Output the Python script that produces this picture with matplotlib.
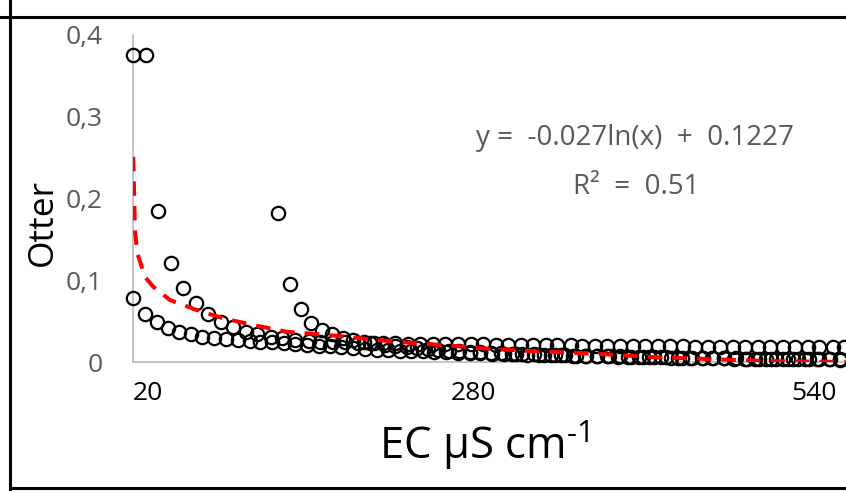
import numpy as np
import matplotlib
matplotlib.use("Agg")
import matplotlib.pyplot as plt
from matplotlib.lines import Line2D

plt.rcParams['font.family'] = ['Open Sans', 'DejaVu Sans']
plt.rcParams['mathtext.default'] = 'regular'

# three decay groups of samples (EC, Otter)
a_x = [20, 30, 39, 49, 58, 68, 77, 87, 96, 106, 115, 125, 134, 144, 154, 163, 173, 182, 192, 201,
       211, 220, 230, 239, 249, 258, 268, 278, 287, 297, 306, 316, 325, 335, 344, 354, 363, 373, 382, 392,
       402, 411, 421, 430, 440, 449, 459, 468, 478, 487, 497, 506, 516, 525, 535, 544, 554, 563]
a_y = [0.375, 0.375, 0.185, 0.1215, 0.090, 0.0718, 0.0587, 0.0493, 0.0432, 0.037,
       0.034, 0.031, 0.029, 0.0275, 0.026, 0.025, 0.0245, 0.024, 0.0235, 0.023,
       0.023, 0.0228, 0.0225, 0.0225, 0.0222, 0.022, 0.022, 0.0218, 0.0215, 0.0213,
       0.021, 0.021, 0.0208, 0.0206, 0.0205, 0.0203, 0.020, 0.020, 0.0198, 0.0196,
       0.0195, 0.0193, 0.0192, 0.019, 0.019, 0.0188, 0.0187, 0.0186, 0.0185, 0.0185,
       0.0184, 0.0183, 0.0182, 0.0181, 0.018, 0.018, 0.0179, 0.0178]

b_x = [20, 29, 38, 47, 55, 64, 73, 82, 91, 100, 109, 117, 126, 135, 144, 153, 162, 170, 179, 188,
       197, 206, 215, 224, 232, 241, 250, 259, 268, 277, 285, 294, 303, 312, 321, 330, 339, 347, 356, 365,
       374, 383, 392, 400, 409, 418, 427, 436, 445, 454, 462, 471, 480, 489, 498, 507, 516, 524, 533, 542,
       551, 560]
b_y = [0.078, 0.0587, 0.0485, 0.041, 0.0363, 0.0338, 0.031, 0.0297, 0.028, 0.027,
       0.026, 0.0248, 0.024, 0.023, 0.022, 0.021, 0.020, 0.019, 0.018, 0.017,
       0.016, 0.015, 0.0145, 0.014, 0.0135, 0.013, 0.0125, 0.012, 0.0115, 0.011,
       0.0105, 0.010, 0.0097, 0.0094, 0.009, 0.0087, 0.0084, 0.008, 0.0078, 0.0075,
       0.0072, 0.007, 0.0068, 0.0065, 0.0062, 0.006, 0.0058, 0.0055, 0.0053, 0.005,
       0.0048, 0.0046, 0.0044, 0.0042, 0.004, 0.0038, 0.0036, 0.0035, 0.0034, 0.0033,
       0.0032, 0.0031]

c_x = [131, 140, 148, 156, 164, 172, 180, 188, 196, 204, 212, 220, 229, 237, 245, 253, 261, 269,
       277, 285, 293, 301, 309, 317, 326, 334, 342, 350, 358, 366, 374, 382, 390, 398, 406, 414,
       423, 431, 439, 447, 455, 463, 471, 479, 487, 495, 503, 511, 520, 528, 536, 544, 552, 560]
c_y = [0.182, 0.095, 0.0645, 0.048, 0.039, 0.034, 0.0297, 0.027, 0.025, 0.023,
       0.021, 0.0195, 0.018, 0.017, 0.016, 0.015, 0.014, 0.0132, 0.0125, 0.012,
       0.0113, 0.0107, 0.0102, 0.0098, 0.0094, 0.009, 0.0086, 0.0082, 0.0079, 0.0076,
       0.0073, 0.007, 0.0067, 0.0064, 0.0062, 0.006, 0.0057, 0.0055, 0.0052, 0.005,
       0.0048, 0.0046, 0.0044, 0.0042, 0.004, 0.0038, 0.0037, 0.0036, 0.0035, 0.0034,
       0.0033, 0.0032, 0.0031, 0.003]

# log trendline as drawn
trend_x = [20.2, 20.9, 21.5, 23.3, 29.2, 35.5, 48.2, 68.6, 88.9, 111.8, 137.3, 178, 199.6,
           221.3, 244.2, 265.8, 287.2, 310, 333, 354.9, 376.5, 399.4, 420.8, 443.7, 465.8,
           487.2, 510, 531.5, 564]
trend_y = [0.251, 0.202, 0.161, 0.133, 0.104, 0.092, 0.0758, 0.0636, 0.0534, 0.0453, 0.037,
           0.0318, 0.028, 0.0248, 0.022, 0.0196, 0.0167, 0.0147, 0.0126, 0.0114, 0.0098,
           0.0077, 0.0057, 0.0045, 0.0033, 0.002, 0.0009, 0.0005, 0.0]

x_ticks = [20, 280, 540]
y_ticks = [0, 0.1, 0.2, 0.3, 0.4]
y_ticklabels = ['0', '0,1', '0,2', '0,3', '0,4']

fig = plt.figure(figsize=(8.46, 4.91), dpi=100)
ax = fig.add_axes([133 / 846, 129 / 491, 713 / 846, 327 / 491])

for xs, ys in [(a_x, a_y), (b_x, b_y), (c_x, c_y)]:
    ax.plot(xs, ys, 'o', ms=9.6, mfc='none', mec='black', mew=1.6, clip_on=False, zorder=3)

ax.plot(trend_x, trend_y, color='#FF0000', lw=2.9, ls=(0, (3.6, 2.5)), zorder=4)

ax.set_xlim(20, 20 + 713 / 1.31)
ax.set_ylim(0, 0.4)
ax.set_xticks(x_ticks)
ax.set_xticklabels([str(v) for v in x_ticks], fontsize=19, color='black')
ax.get_xticklabels()[0].set_ha('left')
ax.set_yticks(y_ticks)
ax.set_yticklabels(y_ticklabels, fontsize=19, color='#595959')
ax.tick_params(length=0)
ax.tick_params(axis='x', pad=14)
ax.tick_params(axis='y', pad=22)
for s in ['top', 'right']:
    ax.spines[s].set_visible(False)
for s in ['left', 'bottom']:
    ax.spines[s].set_color('#BFBFBF')
    ax.spines[s].set_linewidth(1.3)

fig.text(43 / 846, 1 - 222 / 491, 'Otter', rotation=90, fontsize=25.5, ha='center', va='center')
fig.text(484 / 846, 1 - 460 / 491, 'EC μS cm$^{\u2010 1}$', fontsize=31.5, ha='center', va='baseline')
fig.text(635 / 846, 1 - 138 / 491, 'y =  -0.027ln(x)  +  0.1227', fontsize=20, color='#595959',
         ha='center', va='center')
fig.text(636 / 846, 1 - 187 / 491, 'R²  =  0.51', fontsize=20, color='#595959',
         ha='center', va='center')

# frame lines of the surrounding panel
fig.add_artist(Line2D([0, 1], [1 - 17 / 491] * 2, color='black', lw=2.2, transform=fig.transFigure))
fig.add_artist(Line2D([10 / 846] * 2, [0, 1], color='black', lw=2.2, transform=fig.transFigure))
fig.add_artist(Line2D([10 / 846, 1], [3 / 491] * 2, color='black', lw=2.2, transform=fig.transFigure))

fig.savefig('out.png', dpi=100)
